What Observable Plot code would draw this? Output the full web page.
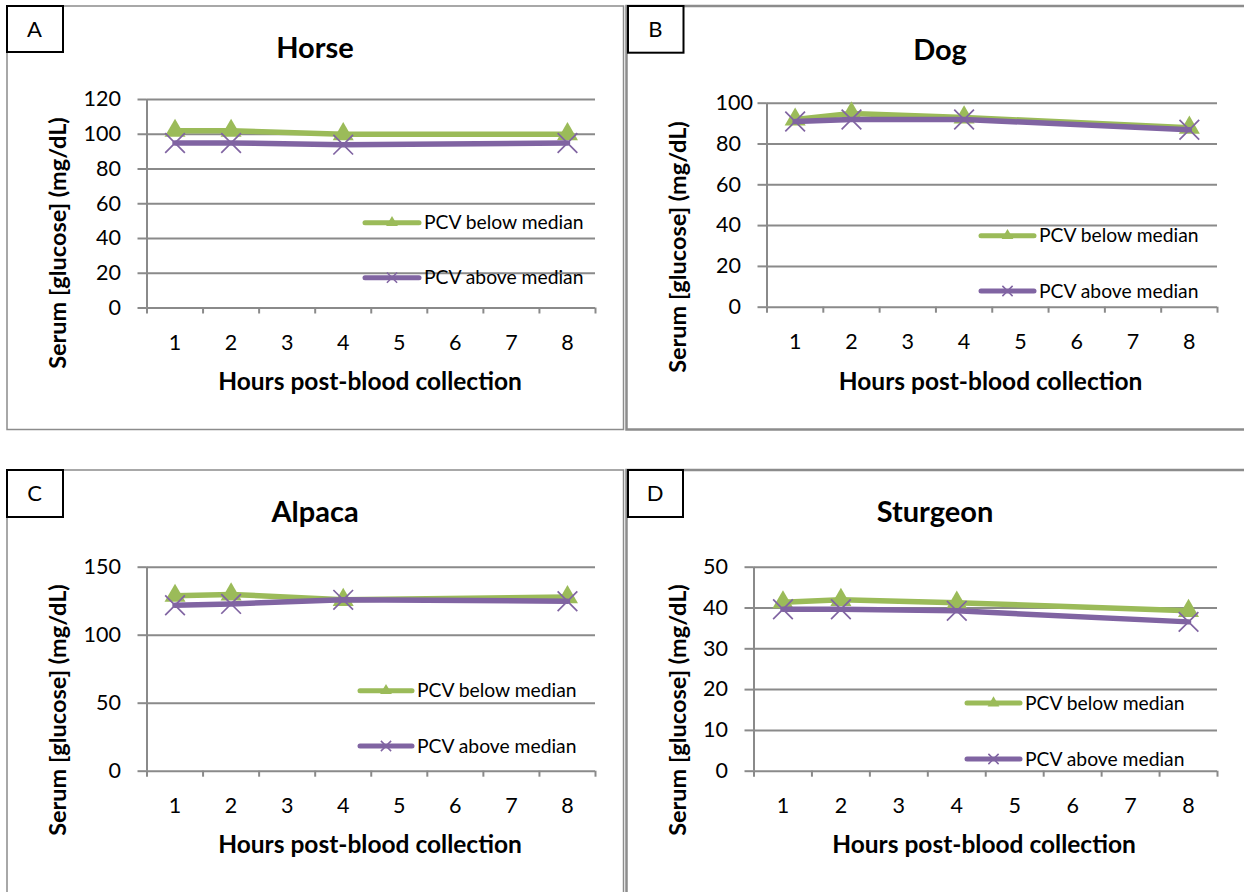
<!DOCTYPE html>
<html><head><meta charset="utf-8">
<script src="https://cdn.jsdelivr.net/npm/d3@7"></script>
<script src="https://cdn.jsdelivr.net/npm/@observablehq/plot@0.6"></script>
<style>
body{margin:0;background:#fff;}
#wrap{position:relative;width:1244px;height:892px;overflow:hidden;background:#fff;font-family:Lato,sans-serif;}
#wrap > svg{position:absolute;}
</style></head><body><div id="wrap"></div>
<script>
// ---- data ----
const hours = [1, 2, 4, 8];
const categoryLabels = ["1", "2", "3", "4", "5", "6", "7", "8"];
const seriesNames = ["PCV below median", "PCV above median"];
const horseBelow = [102, 102, 100, 100];
const horseAbove = [95, 95, 94, 95];
const dogBelow = [92, 95, 93, 88];
const dogAbove = [91, 92, 92, 87];
const alpacaBelow = [129, 130, 126, 128];
const alpacaAbove = [122, 123, 126, 125];
const sturgeonBelow = [41.4, 42, 41.3, 39.3];
const sturgeonAbove = [39.7, 39.7, 39.3, 36.6];
const panelLetters = ["A", "B", "C", "D"];
const speciesTitles = ["Horse", "Dog", "Alpaca", "Sturgeon"];
const yMax = [120, 100, 150, 50];
const yStep = [20, 20, 50, 10];
const xTitle = "Hours post-blood collection";
const yTitle = "Serum [glucose] (mg/dL)";

const belowSeries = [horseBelow, dogBelow, alpacaBelow, sturgeonBelow];
const aboveSeries = [horseAbove, dogAbove, alpacaAbove, sturgeonAbove];

const GREEN = "#9BBB59", PURPLE = "#8064A2", GRID = "#8a8a8a", BORDER = "#8c8c8c";
const TICK_FS = 21.5;

// ---- layout (page pixels) ----
const layouts = [
  {left: 8, top: 8, w: 614, h: 420, x0: 146.5, x1: 595, yT: 99, yB: 307.5,
   title: [315, 57.5], xt: [370, 390], yt: [66, 243], letter: [7, 6, 56, 46],
   leg: {x1: 365, x2: 419, y: [222.7, 277.7], tx: 424}},
  {left: 629, top: 8, w: 615, h: 420, x0: 766.5, x1: 1217, yT: 102.7, yB: 306.7,
   title: [940, 59.5], xt: [990.6, 390], yt: [686, 247], letter: [628, 6, 55.5, 46.7],
   leg: {x1: 981, x2: 1034, y: [235.7, 291], tx: 1039}, topPad: 5},
  {left: 8, top: 472, w: 614, h: 420, x0: 146.5, x1: 595, yT: 566.7, yB: 770.7,
   title: [315, 522], xt: [370, 853], yt: [66, 710], letter: [7, 470, 56, 47],
   leg: {x1: 360, x2: 412, y: [690.7, 746], tx: 417}},
  {left: 629, top: 472, w: 615, h: 420, x0: 753.5, x1: 1217, yT: 566.7, yB: 770.7,
   title: [935, 522], xt: [984, 853], yt: [686, 710], letter: [628, 470, 55, 47],
   leg: {x1: 967, x2: 1020, y: [703, 759], tx: 1025}}
];

const wrap = document.getElementById("wrap");

// ---- overlay: panel borders (drawn first, beneath) ----
const under = d3.select(wrap).append("svg").attr("width", 1244).attr("height", 892).style("left", 0).style("top", 0);
under.append("rect").attr("x", 7).attr("y", 6).attr("width", 616.5).attr("height", 423.5).attr("fill", "none").attr("stroke", BORDER).attr("stroke-width", 1.5);
under.append("rect").attr("x", 626.5).attr("y", 6).attr("width", 640).attr("height", 423.5).attr("fill", "none").attr("stroke", BORDER).attr("stroke-width", 2.5);
under.append("rect").attr("x", 7).attr("y", 470).attr("width", 616.5).attr("height", 440).attr("fill", "none").attr("stroke", BORDER).attr("stroke-width", 1.5);
under.append("rect").attr("x", 626.5).attr("y", 470).attr("width", 640).attr("height", 440).attr("fill", "none").attr("stroke", BORDER).attr("stroke-width", 2.5);

// ---- plots ----
layouts.forEach((L, i) => {
  const rows = hours.map((h, k) => ({
    pos: categoryLabels.indexOf(String(h)) + 1,
    below: belowSeries[i][k],
    above: aboveSeries[i][k]
  }));
  const ticksY = d3.range(0, yMax[i] + 1e-9, yStep[i]);
  const mainTicks = L.topPad ? ticksY.filter(t => t !== yMax[i]) : ticksY;
  const edgeTicks = d3.range(0, categoryLabels.length + 1).map(k => k + 0.5);
  const catTicks = categoryLabels.map((c, k) => k + 1);
  const marks = [
    Plot.ruleY(ticksY, {stroke: GRID, strokeWidth: 2}),
    Plot.ruleX([0.5], {stroke: GRID, strokeWidth: 2}),
    Plot.axisY(mainTicks, {tickSize: 9, tickPadding: 17, stroke: GRID, strokeWidth: 2, fontSize: TICK_FS, fill: "#000", label: null, tickFormat: d => String(d)}),
  ];
  if (L.topPad) {
    marks.push(Plot.axisY([yMax[i]], {tickSize: 9, tickPadding: L.topPad, stroke: GRID, strokeWidth: 2, fontSize: TICK_FS, fill: "#000", label: null, tickFormat: d => String(d)}));
  }
  marks.push(
    Plot.axisX(edgeTicks, {tickSize: 6, stroke: GRID, strokeWidth: 2, label: null, tickFormat: () => ""}),
    Plot.axisX(catTicks, {tickSize: 0, tickPadding: 26.4, fontSize: TICK_FS, fill: "#000", label: null, tickFormat: d => categoryLabels[d - 1]}),
    Plot.line(rows, {x: "pos", y: "below", stroke: GREEN, strokeWidth: 5.5, strokeLinejoin: "round", strokeLinecap: "round"}),
    Plot.dot(rows, {x: "pos", y: "below", symbol: "triangle", fill: GREEN, r: 7.8}),
    Plot.line(rows, {x: "pos", y: "above", stroke: PURPLE, strokeWidth: 5.5, strokeLinejoin: "round", strokeLinecap: "round"}),
    Plot.dot(rows, {x: "pos", y: "above", symbol: "times", stroke: PURPLE, strokeWidth: 1.7, r: 9})
  );
  const chart = Plot.plot({
    width: L.w, height: L.h,
    marginLeft: L.x0 - L.left,
    marginRight: L.left + L.w - L.x1,
    marginTop: L.yT - L.top,
    marginBottom: L.top + L.h - L.yB,
    style: {fontFamily: "Lato, sans-serif", fontSize: TICK_FS + "px", color: "#000", background: "transparent", overflow: "visible"},
    x: {type: "linear", domain: [0.5, categoryLabels.length + 0.5], axis: null, label: null},
    y: {domain: [0, yMax[i]], axis: null, label: null},
    marks
  });
  chart.style.position = "absolute";
  chart.style.left = L.left + "px";
  chart.style.top = L.top + "px";
  wrap.appendChild(chart);
});

// ---- overlay: texts, label boxes, legends ----
const over = d3.select(wrap).append("svg").attr("width", 1244).attr("height", 892).style("left", 0).style("top", 0)
  .style("font-family", "Lato, sans-serif");

layouts.forEach((L, i) => {
  const [bx, by, bw, bh] = L.letter;
  over.append("rect").attr("x", bx).attr("y", by).attr("width", bw).attr("height", bh)
    .attr("fill", "#fff").attr("stroke", "#000").attr("stroke-width", 2);
  over.append("text").attr("x", bx + bw / 2 - 0.5).attr("y", by + bh / 2 + 7.9)
    .attr("text-anchor", "middle").attr("font-size", 22).attr("fill", "#000").text(panelLetters[i]);
  over.append("text").attr("x", L.title[0]).attr("y", L.title[1]).attr("text-anchor", "middle")
    .attr("font-size", 29).attr("font-weight", "bold").attr("fill", "#000").text(speciesTitles[i]);
  over.append("text").attr("x", L.xt[0]).attr("y", L.xt[1]).attr("text-anchor", "middle")
    .attr("font-size", 24.5).attr("font-weight", "bold").attr("fill", "#000").text(xTitle);
  over.append("text").attr("transform", `translate(${L.yt[0]},${L.yt[1]}) rotate(-90)`).attr("text-anchor", "middle")
    .attr("font-size", 23.5).attr("font-weight", "bold").attr("fill", "#000").text(yTitle);
  const lg = L.leg;
  [GREEN, PURPLE].forEach((col, s) => {
    const y = lg.y[s];
    over.append("line").attr("x1", lg.x1).attr("x2", lg.x2).attr("y1", y).attr("y2", y)
      .attr("stroke", col).attr("stroke-width", 5).attr("stroke-linecap", "round");
    const cx = (lg.x1 + lg.x2) / 2;
    if (s === 0) {
      over.append("path").attr("d", d3.symbol(d3.symbolTriangle, 60)()).attr("transform", `translate(${cx},${y})`).attr("fill", col);
    } else {
      over.append("path").attr("d", d3.symbol(d3.symbolTimes, 70)()).attr("transform", `translate(${cx},${y})`)
        .attr("fill", "none").attr("stroke", col).attr("stroke-width", 1.5);
    }
    over.append("text").attr("x", lg.tx).attr("y", y + 6.6).attr("font-size", 19.3).attr("fill", "#000").text(seriesNames[s]);
  });
});
</script></body></html>
